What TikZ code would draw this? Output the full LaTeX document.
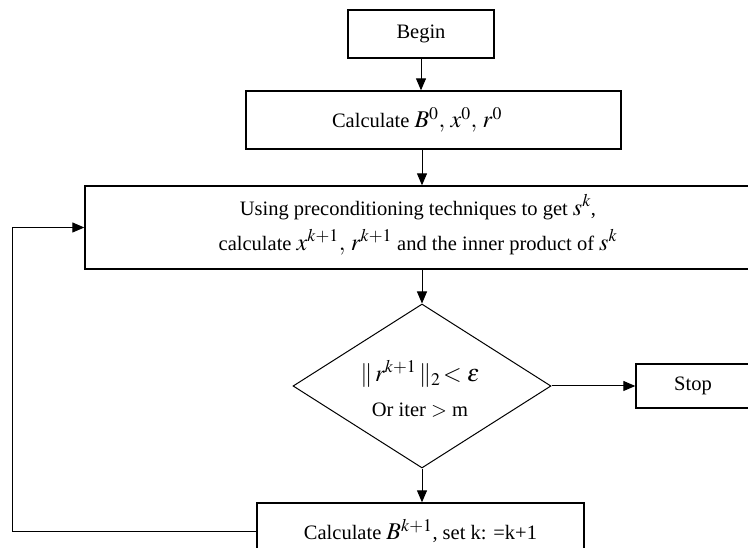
\documentclass[tikz,border=0pt]{standalone}
\usepackage{mathptmx}
\usepackage{fontspec}
\setmainfont{Liberation Serif}
\usetikzlibrary{arrows.meta,shapes.geometric}
\newcommand\mth[1]{{\fontsize{24}{30}\selectfont$#1$}}
\begin{document}
\begin{tikzpicture}[x=1pt,y=-1pt,
  every node/.style={font=\fontsize{20.5}{35}\selectfont},
  box/.style={draw,line width=1.3pt,inner sep=0pt,align=center},
  txt/.style={inner sep=0pt,align=center},
  arr/.style={line width=1pt,-{Triangle[length=12pt,width=10pt]}},
  ln/.style={line width=1pt}]
\clip (0,0) rectangle (748,548);
\fill[white] (0,0) rectangle (748,548);
\node[box,minimum width=146pt,minimum height=48pt] (begin) at (421,34) {Begin};
\node[box,minimum width=375pt,minimum height=58pt] (calc) at (433.5,120) {};
\node[txt] (calct) at (417,120) {Calculate \mth{B^0,\,x^0,\,r^0}};
\node[box,minimum width=674pt,minimum height=83pt] (main) at (422,227.5) {};
\node[txt] (maint) at (418,225) {Using preconditioning techniques to get \mth{s^k},\\
calculate \mth{x^{k+1},\,r^{k+1}} and the inner product of \mth{s^k}};
\node[diamond,draw,line width=1pt,inner sep=0pt,minimum width=258pt,minimum height=164pt] (dia) at (422,386) {};
\node[txt] (diat) at (420,389) {\mth{\|\, r^{k+1}\,\|_2\!< \varepsilon}\\ Or iter $>$ m};
\node[box,minimum width=114pt,minimum height=44pt] (stop) at (693,386) {Stop};
\node[box,minimum width=327pt,minimum height=56pt] (last) at (420.5,531) {Calculate \mth{B^{k+1}}, set k: =k+1};
\coordinate (fb) at (12,530);
\draw[arr] (begin.south) -- (begin.south |- calc.north);
\draw[arr] (calc.south -| main.center) -- (main.north);
\draw[arr] (main.south) -- (dia.north);
\draw[arr] (dia.east) -- (stop.west);
\draw[arr] (dia.south) -- (dia.south |- last.north);
\draw[arr] (last.west) -- (last.west -| fb) |- (main.west);
\end{tikzpicture}
\end{document}
